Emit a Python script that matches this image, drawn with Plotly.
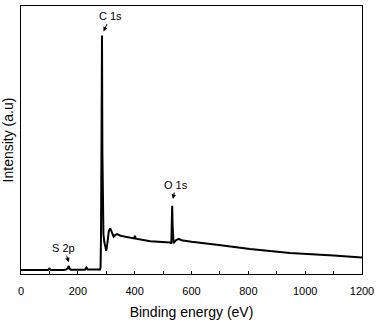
import plotly.graph_objects as go

# XPS survey spectrum: binding energy (eV) vs intensity (arbitrary units)
binding_energy = [
    0, 40, 95, 100, 105, 150, 160, 165, 168, 171, 175, 225, 230, 235, 278,
    280, 281.5, 283.5, 285, 286.5, 288, 290, 293, 297, 300, 304, 309, 314,
    320, 326, 332, 338, 350, 380, 398, 401, 404, 455, 500, 525, 529, 531,
    532, 533.5, 537, 545, 555, 565, 600, 689, 806, 946, 1040, 1100, 1200,
]
intensity = [
    1.5, 1.4, 1.5, 2.0, 1.5, 1.5, 1.7, 2.2, 3.0, 2.0, 1.6, 1.6, 2.4, 1.7, 1.7,
    2.5, 14.0, 52.0, 89.0, 45.0, 16.0, 15.0, 12.0, 9.0, 8.7, 11.5, 16.0, 17.0,
    15.5, 13.9, 14.6, 14.9, 14.3, 13.8, 13.3, 14.3, 13.2, 12.2, 12.0, 11.8, 11.3,
    20.0, 25.5, 18.0, 11.5, 12.6, 13.1, 12.6, 12.0, 10.9, 9.3, 7.8, 7.4, 6.9, 6.2,
]

# Peak labels: text, arrow tip (energy, intensity) and text offset in pixels
peak_labels = ["C 1s", "O 1s", "S 2p"]
peak_tip_x = [290.5, 534.5, 168.5]
peak_tip_y = [90.5, 28.0, 4.4]
peak_ax = [7, 3, -5]
peak_ay = [-15, -14, -14]

x_ticks = [0, 200, 400, 600, 800, 1000, 1200]

fig = go.Figure()
fig.add_trace(go.Scatter(
    x=binding_energy, y=intensity, mode="lines",
    line=dict(color="black", width=2),
    showlegend=False, hoverinfo="skip",
))

for txt, tx, ty, ax, ay in zip(peak_labels, peak_tip_x, peak_tip_y, peak_ax, peak_ay):
    fig.add_annotation(
        x=tx, y=ty, text=txt, showarrow=True,
        ax=ax, ay=ay, arrowhead=2, arrowsize=0.9, arrowwidth=1,
        arrowcolor="black", standoff=0, startstandoff=0,
        font=dict(family="Liberation Sans, Arial", size=11, color="black"),
    )

fig.update_layout(
    width=379, height=322,
    margin=dict(l=21, r=17, t=5, b=44),
    paper_bgcolor="white", plot_bgcolor="white",
    font=dict(family="Liberation Sans, Arial", color="black"),
    xaxis=dict(
        range=[0, 1200], tickvals=x_ticks, ticktext=[str(v) for v in x_ticks],
        ticks="inside", ticklen=3, tickwidth=1, tickcolor="black",
        ticklabelstandoff=7,
        minor=dict(dtick=100, ticks="inside", ticklen=3, tickcolor="black"),
        showline=True, linecolor="black", linewidth=1, mirror=True,
        showgrid=False, zeroline=False,
        tickfont=dict(size=11),
        title=dict(text="Binding energy (eV)", font=dict(size=14), standoff=10),
    ),
    yaxis=dict(
        range=[0, 100], showticklabels=False, ticks="",
        showline=True, linecolor="black", linewidth=1, mirror=True,
        showgrid=False, zeroline=False,
        title=dict(text="Intensity (a.u)", font=dict(size=14), standoff=3),
    ),
)

fig.write_html("out.html")
